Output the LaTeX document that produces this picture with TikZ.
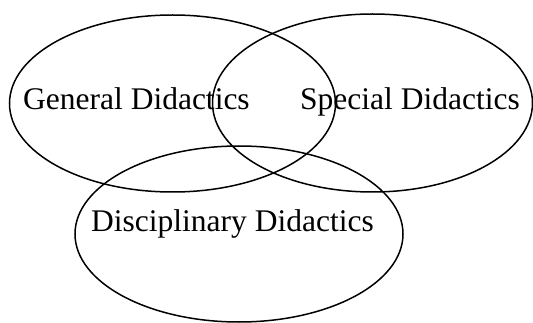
\documentclass[tikz,border=0pt]{standalone}
\usepackage{fontspec}
\setmainfont{Liberation Serif}
\begin{document}
\begin{tikzpicture}[x=1pt,y=-1pt,
  ring/.style={draw=black,line width=1.5pt},
  label/.style={inner sep=0pt,anchor=base west,font=\fontsize{31.5}{36}\selectfont}]
\useasboundingbox (0,0) rectangle (533,323);
\draw[ring] (172.5,103.5) ellipse [x radius=163, y radius=88.5];
\draw[ring] (372.5,103) ellipse [x radius=160, y radius=89];
\draw[ring] (239,234) ellipse [x radius=164, y radius=88];
\node[label] (gen) at (23,110) {General Didactics};
\node[label] (spe) at (300,110) {Special Didactics};
\node[label] (dis) at (91,232) {Disciplinary Didactics};
\end{tikzpicture}
\end{document}
